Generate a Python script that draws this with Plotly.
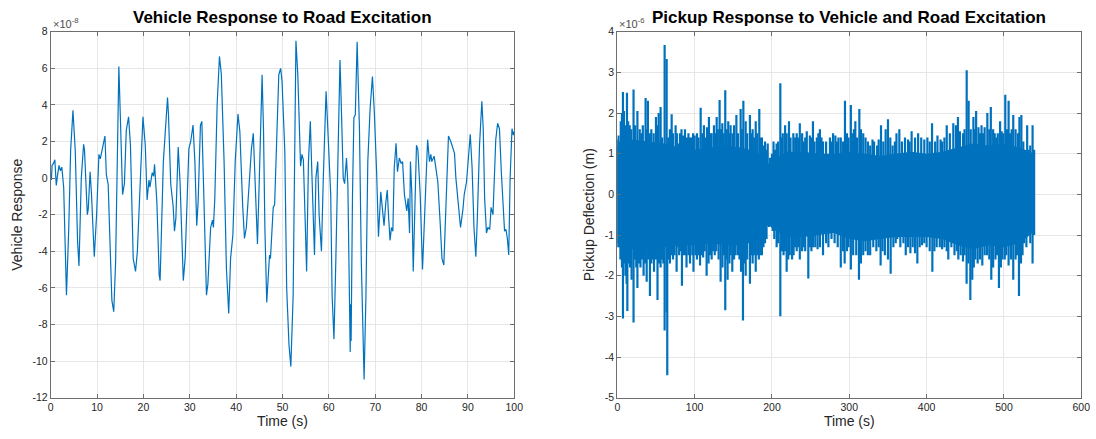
import plotly.graph_objects as go

# ---------------- Left panel data (values in units of 1e-8) ----------------
vehicle_time = [0, 0.15, 0.3, 0.6, 0.9, 1.2, 1.5, 1.8, 2.1, 2.4, 2.8, 3.1, 3.4, 3.9, 4.3, 4.8, 5.3, 5.8, 6.1, 6.6,
                7.1, 7.3, 7.9, 8.1, 8.5, 8.8, 9.4, 9.9, 10.4, 10.7, 11.2, 11.7, 12.0, 12.4, 12.8, 13.2, 13.6, 14.0,
                14.4, 14.7, 15.1, 15.5, 15.9, 16.3, 16.8, 17.2, 17.8, 18.3, 18.7, 19.2, 19.9, 20.4, 20.8, 21.2,
                21.4, 21.9, 22.2, 22.4, 22.9, 23.4, 23.6, 24.3, 24.8, 25.2,
                25.4, 25.9, 26.4, 26.7, 27.0, 27.5, 27.9, 28.6, 29.0, 29.8, 30.2, 30.7, 31.1, 31.5, 31.8, 32.3,
                32.6, 32.9, 33.6, 33.9, 34.5, 34.9, 35.1, 35.4, 35.9, 36.4, 36.8, 37.4, 37.9, 38.4, 38.8, 39.3,
                39.8, 40.4, 40.8, 41.4, 41.8, 42.2, 42.8, 43.3, 43.7, 44.1, 44.6, 45.1, 45.6, 45.9, 46.2, 46.6,
                47.2, 47.4, 48.0, 48.3, 48.7, 49.2, 49.6, 49.9,
                50.5, 50.9, 51.4, 51.8, 52.3, 52.7, 52.9, 53.3, 53.6, 53.9, 54.2, 54.5, 54.9, 55.2, 55.6, 56.0,
                56.3, 56.7, 56.9, 57.2, 57.6, 57.9, 58.4, 58.8, 59.4, 59.8, 60.4, 60.7, 61.1, 61.5, 62.0, 62.4,
                62.7, 63.1, 63.4, 63.8, 64.1, 64.4, 64.6, 64.7, 64.8, 65.1, 65.4, 65.7, 66.1, 66.6, 67.0, 67.6,
                68.0, 68.4, 68.9, 69.4, 69.8, 70.3, 70.7, 71.2, 71.5, 71.9, 72.3, 72.6, 72.9, 73.2, 73.5, 73.8,
                74.1, 74.5,
                74.8, 75.2, 75.6, 75.9, 76.3, 76.8, 77.1, 77.4, 77.6, 77.9, 78.2, 78.6, 78.9, 79.2, 79.7, 80.2,
                80.8, 81.3, 81.7, 82.0, 82.2, 82.7, 83.0, 83.5, 84.0, 84.4, 84.8, 85.1, 85.5, 85.8, 86.3, 86.7,
                87.1, 87.4, 87.9, 88.4, 88.9, 89.2, 89.7, 90.2, 90.5, 90.9, 91.3, 91.7, 92.0, 92.5, 93.0, 93.3,
                93.6, 94.0, 94.3, 94.7, 95.0, 95.4, 95.8, 96.0, 96.4, 96.8, 97.2, 97.5, 97.9, 98.2, 98.5, 98.8,
                99.1, 99.5, 99.8, 100]
vehicle_resp = [0.1, -0.1, 0.7, 0.8, 1.0, -0.4, 0.2, 0.7, 0.4, 0.6, -0.5, -3.5, -6.4, -2.7, 1.5, 3.7, 1.5, -3.5, -4.8, 0,
                1.85, 1.5, -2.0, -1.7, 0.35, -0.9, -4.3, -2.0, 1.3, 1.05, 1.7, 2.3, 0.2, -0.35, -3.6, -6.7, -7.3, -4.6,
                1.5, 6.1, 2.7, -0.9, -0.3, 2.6, 3.35, 1.8, -4.4, -5.1, -4.0, -1.3, 3.35, 1.8, -1.2, -0.1,
                -0.5, 0.3, 0.1, 0.75, -1.3, -5.3, -5.6, 0.9, 3.0, 4.4,
                3.5, -0.35, -1.5, -2.9, -2.2, 1.7, -0.2, -5.6, -4.4, 1.6, 2.0, 2.9, 0.9, -2.6, -1.3, 2.9,
                3.1, 0.5, -6.4, -5.8, -2.7, -2.3, -2.7, -1.1, 4.0, 6.65, 5.7, 0.9, -4.9, -7.4, -4.4, -3.1,
                0.9, 3.5, 2.55, -1.45, -3.3, -2.7, -0.35, 1.6, 2.45, -0.35, -3.6, 0.9, 5.65, 2.7, -2.7, -6.8,
                -4.2, -4.4, -1.6, -1.45, 1.9, 5.65, 6.0, 5.3,
                1.45, -6.0, -9.1, -10.3, -6.4, 4.6, 7.5, 5.65, 2.7, 0.65, 1.3, 1.0, -2.4, -5.1, 0.9, 3.1,
                0.55, -3.6, -4.2, 0, 0.9, -2.0, -4.0, 0, 4.75, 2.55, -0.9, -6.4, -8.8, -4.55, 2.7, 6.45,
                3.8, 0, -0.3, 1.1, -0.35, -4.55, -9.5, -6.9, -8.9, -0.9, 3.3, 3.45, 7.45, 2.7, -4.55, -11.0,
                -6.4, 0.9, 3.8, 5.55, 3.65, 0.35, -3.2, -0.75, -1.45, -2.6, -1.3, -0.65, -2.2, -3.4, -2.7, -2.9,
                0.55, 1.9,
                0.35, 1.1, 0.8, 0.9, -0.9, -1.8, -1.1, -3.0, 0.9, -0.9, -5.1, 0, 1.8, 1.55, -0.9, -5.0,
                -0.9, 2.1, 0.9, 1.3, 0.9, 1.2, 0.7, -0.2, -2.4, -4.4, -4.75, -2.7, 0.9, 2.3, 2.0, 1.7,
                1.35, 0, -1.3, -2.7, -1.75, -0.9, -0.2, 1.3, 2.4, 0.55, -2.7, -4.3, -2.4, 1.8, 4.2, 2.7,
                -1.1, -3.0, -2.7, -2.8, -1.6, -2.0, 0.55, 2.1, 3.0, 2.7, 0.35, -0.9, -2.9, -2.8, -3.3, -4.2,
                0, 2.7, 2.35, 2.55]

# ---------------- Right panel data (values in units of 1e-6 m) ----------------
# dense signal band: solid core envelope + individual peaks
core_time = [0, 20, 40, 60, 80, 100, 120, 140, 160, 180, 195, 205, 220, 240, 260, 280, 300, 320, 340, 360,
             380, 400, 420, 440, 460, 480, 500, 520, 540]
core_upper = [1.2, 1.35, 1.3, 1.25, 1.15, 1.1, 1.15, 1.2, 1.15, 1.05, 0.75, 0.9, 1.05, 1.05, 1.0, 1.0, 1.05, 1.0,
              0.95, 1.0, 1.05, 1.0, 1.05, 1.15, 1.25, 1.2, 1.25, 1.15, 1.0]
core_lower = [-1.2, -1.35, -1.35, -1.3, -1.25, -1.25, -1.2, -1.25, -1.25, -1.15, -0.75, -0.9, -1.05, -1.05, -1.0,
              -0.95, -1.1, -1.15, -1.1, -1.05, -1.05, -1.05, -1.1, -1.25, -1.35, -1.25, -1.3, -1.2, -0.9]

pickup_upper_peaks = [
    (0, 1.35), (1.5, 1.45), (3, 1.3), (4.5, 1.8), (6, 2.0), (7.3, 2.52), (8.6, 2.05), (10, 1.7), (12.5, 2.5),
    (14, 1.8), (16, 1.7), (18, 1.6), (21, 2.58), (23, 1.7), (26, 2.05), (29, 1.6), (31, 1.5), (33, 1.7),
    (36.6, 2.37), (38, 1.6), (39.6, 2.3), (42, 1.5), (44, 1.6), (47, 1.5), (50, 1.9), (51.5, 1.7), (53.5, 2.0),
    (56, 2.15), (58, 1.4), (61.2, 3.67), (63.8, 3.33), (66, 1.4), (68, 1.6), (70.3, 1.97), (72, 1.5),
    (75.4, 1.7), (77, 1.5), (79, 1.25), (81, 1.5), (83, 1.6), (85, 1.45), (87.5, 1.6), (90, 1.4), (92, 1.5),
    (94, 1.4), (96, 1.4), (98, 1.5), (100, 1.45), (103, 1.5), (105, 1.4), (107.8, 2.13), (110, 1.5), (112, 1.7),
    (114, 1.4), (116, 1.65), (118.5, 1.9), (120, 1.5), (122, 1.5), (125, 1.7), (127, 1.5), (128.5, 1.9),
    (130, 1.6), (132.3, 2.32), (134, 1.6), (135.8, 1.75), (137.5, 1.5), (139.6, 2.56), (141.5, 1.6),
    (143.5, 1.8), (145, 1.5), (146.5, 1.7), (149, 1.5), (151, 1.7), (154, 1.95), (156, 1.5), (159.5, 2.1),
    (161, 1.6), (163, 2.3), (166, 1.8), (168, 1.5), (171.5, 1.95), (173, 1.5), (175, 1.6), (177, 1.4),
    (179, 1.8), (181, 1.5), (183.6, 2.1), (185, 1.4), (187, 1.4), (189, 1.2), (191, 1.3), (193, 1.1),
    (194.5, 1.25), (197.5, 0.9), (200, 1.0), (202, 1.3), (204, 1.1), (206, 1.25), (208, 1.3), (210.8, 2.73),
    (212, 1.4), (214, 1.5), (217, 1.7), (219, 1.5), (222, 1.8), (224, 1.4), (227.6, 1.5), (230, 1.4),
    (232, 1.5), (234, 1.4), (236, 1.75), (239, 1.5), (241, 1.3), (243, 1.4), (245, 1.55), (249, 1.45),
    (251, 1.4), (253, 1.8), (255, 1.3), (258, 1.4), (260, 1.5), (262, 1.6), (264, 1.4), (266, 1.3), (270, 1.3),
    (275, 1.4), (277, 1.3), (279, 1.5), (282, 1.45), (284, 1.3), (286, 1.4), (289, 1.4), (292, 1.3),
    (294.4, 2.3), (297, 1.5), (299, 1.4), (302, 2.2), (304, 1.5), (306, 1.6), (307.8, 1.8), (310, 1.4),
    (313, 2.1), (315, 1.6), (318, 1.5), (321, 1.4), (324, 1.3), (327, 1.2), (330, 1.35), (332, 1.3), (336, 1.2),
    (338, 1.35), (341, 1.7), (344, 1.3), (347, 1.6), (350, 1.85), (353, 1.4), (356, 1.2), (359, 1.3),
    (361, 1.5), (364.7, 1.6), (368, 1.3), (372, 1.4), (376, 1.35), (378, 1.3), (380.6, 1.55), (385, 1.4),
    (389, 1.5), (393, 1.4), (397, 1.35), (401, 1.4), (404, 1.3), (407, 1.75), (411, 1.3), (414, 1.45),
    (418, 1.35), (420, 1.3), (423, 1.4), (426, 1.7), (430, 1.5), (434.5, 1.75), (438, 1.7), (440.5, 1.9),
    (443, 1.55), (447, 1.5), (449, 1.6), (451.8, 3.05), (454.3, 2.3), (457, 1.6), (460.5, 1.9), (462, 1.6),
    (464, 2.05), (467, 1.65), (469, 1.5), (471, 1.7), (473, 1.5), (475, 1.65), (478.5, 2.0), (481, 1.6),
    (483, 2.15), (486, 1.6), (488, 1.5), (490, 1.4), (492, 1.5), (495, 1.8), (497, 1.55), (499, 1.5),
    (501.7, 2.45), (504, 1.6), (506, 2.3), (508, 1.5), (510, 1.6), (512, 1.95), (515, 1.6), (518, 1.5),
    (520, 1.9), (522.5, 1.95), (525, 1.3), (528, 0.9), (530, 1.7), (532, 1.1), (534, 1.2), (537, 1.7), (539, 1.1)]

pickup_lower_peaks = [
    (0, -1.3), (2, -1.3), (4, -1.6), (6, -1.8), (7.3, -3.05), (9, -1.7), (10.5, -2.0), (12, -2.2), (13, -2.87),
    (15, -1.7), (16.5, -1.8), (18.5, -2.1), (21, -3.15), (23, -1.6), (24.5, -1.8), (26, -2.3), (28, -1.7),
    (30, -1.8), (32, -1.6), (34, -2.0), (36, -1.7), (38, -2.15), (40, -1.6), (42.2, -2.5), (44, -1.7),
    (46, -1.6), (47.5, -1.9), (50, -1.6), (52, -2.6), (54, -1.7), (56, -1.8), (58, -1.6), (59.5, -1.7),
    (61.2, -3.35), (63.8, -2.9), (64.6, -4.45), (66, -1.6), (68, -1.7), (70, -1.5), (72, -1.6), (74, -1.5),
    (76.7, -1.9), (78, -1.3), (80, -1.5), (81.5, -1.4), (83.6, -2.25), (85, -1.5), (87.5, -1.5), (89.5, -1.8),
    (92, -1.5), (94, -1.7), (97, -1.5), (98.5, -1.9), (101, -1.5), (103, -1.6), (105, -1.5), (107, -1.75),
    (109, -1.5), (111, -1.55), (113, -1.4), (115.5, -2.0), (118, -1.7), (120, -1.5), (122, -1.6), (124, -1.4),
    (126, -1.5), (128, -1.4), (131, -1.6), (133.6, -2.15), (136, -1.8), (138, -1.5), (139.6, -2.85),
    (141, -1.6), (142.6, -2.1), (145, -1.7), (146.5, -1.5), (148.7, -1.9), (151, -1.6), (153, -1.5),
    (156, -1.5), (158, -1.6), (160, -1.9), (162.5, -3.1), (164, -1.7), (166, -2.0), (168, -1.6),
    (171.5, -2.2), (173, -1.5), (175, -1.7), (177, -1.5), (179, -1.9), (181, -1.5), (183, -1.6), (185, -1.5),
    (187, -1.5), (189, -1.3), (191, -1.2), (193, -1.1), (196, -0.8), (198, -0.75), (201, -0.9), (203, -1.1),
    (206, -1.3), (208, -1.2), (210.8, -3.0), (213, -1.4), (215, -1.5), (217, -1.4), (219, -1.9), (221, -1.6),
    (223, -1.5), (226, -1.6), (228, -1.5), (230, -1.3), (232, -1.4), (234, -1.3), (236, -1.6), (239, -1.4),
    (241, -1.3), (243, -1.4), (247, -2.07), (249, -1.3), (251, -1.4), (253, -1.3), (256, -1.3), (259, -1.35),
    (262, -1.3), (266, -1.5), (270, -1.2), (273, -1.3), (277, -1.1), (281, -1.2), (285, -1.3), (289, -1.8),
    (292, -1.4), (294, -1.7), (297, -1.4), (299, -1.3), (302, -1.85), (305, -1.5), (309, -1.5), (312.5, -2.1),
    (315, -1.7), (318, -1.5), (321, -1.4), (324, -1.5), (327, -1.5), (331, -1.3), (335, -1.4), (338, -1.3),
    (340.5, -1.75), (343, -1.4), (346, -1.5), (350, -1.6), (353.5, -1.95), (357, -1.3), (360, -1.2),
    (362, -1.1), (366, -1.3), (370, -1.2), (373, -1.5), (376, -1.3), (379, -1.45), (382, -1.3), (385, -1.45),
    (388, -1.7), (391, -1.3), (394, -1.25), (397, -1.2), (400, -1.3), (404, -1.4), (407.4, -1.9), (410, -1.4),
    (413, -1.3), (417, -1.3), (420, -1.35), (423, -1.3), (426, -1.4), (428, -1.6), (432, -1.3), (436, -1.5),
    (439, -1.4), (441, -1.6), (444, -1.5), (447, -1.65), (449, -1.5), (451.7, -2.2), (454, -1.7),
    (456.5, -2.6), (459, -2.1), (461, -1.8), (463, -1.6), (466, -1.7), (469, -1.6), (472, -1.75), (475, -1.5),
    (478, -1.5), (481, -1.6), (483.6, -2.1), (486, -1.8), (489, -1.6), (491, -1.5), (493.5, -2.3),
    (496, -1.8), (498, -1.6), (501, -1.6), (503, -1.5), (506, -1.75), (509, -1.6), (512, -2.1), (515, -1.6),
    (517, -1.5), (519.4, -2.5), (522, -1.7), (524, -1.5), (526, -1.2), (529, -1.3), (532, -1.0), (534, -1.2),
    (537, -1.7), (539, -1.0)]

left_xticks = list(range(0, 101, 10))
left_yticks = list(range(-12, 9, 2))
right_xticks = list(range(0, 601, 100))
right_yticks = list(range(-5, 5, 1))

BLUE = "#0072BD"
FONT = "Liberation Sans, Arial, Helvetica, sans-serif"
W, H = 1096, 439

fig = go.Figure()

fig.add_trace(go.Scatter(x=vehicle_time, y=vehicle_resp, mode="lines",
                         line=dict(color=BLUE, width=1.2), xaxis="x", yaxis="y",
                         showlegend=False, hoverinfo="skip"))

# solid core band of the dense signal
band_x = core_time + core_time[::-1]
band_y = core_upper + core_lower[::-1]
fig.add_trace(go.Scatter(x=band_x, y=band_y, mode="lines", fill="toself", fillcolor=BLUE,
                         line=dict(color=BLUE, width=0), xaxis="x2", yaxis="y2",
                         showlegend=False, hoverinfo="skip"))

# individual peaks of the dense signal
sx, sy = [], []
for t, v in pickup_upper_peaks + pickup_lower_peaks:
    sx += [t, t, None]
    sy += [0, v, None]
fig.add_trace(go.Scatter(x=sx, y=sy, mode="lines", line=dict(color=BLUE, width=2.2),
                         xaxis="x2", yaxis="y2", showlegend=False, hoverinfo="skip"))

# axes geometry (pixels)
L1, R1 = 50.7, 514.3
L2, R2 = 617.3, 1081.3
TOP, BOT = 31.7, 397.7
ydom = [1 - BOT / H, 1 - TOP / H]


def labels(vals):
    return [str(v) for v in vals]


axis_common = dict(showgrid=True, gridcolor="#e6e6e6", gridwidth=1, zeroline=False, automargin=False,
                   showline=True, linecolor="#6e6e6e", linewidth=1, mirror="ticks",
                   ticks="inside", ticklen=4, tickcolor="#6e6e6e",
                   tickfont=dict(family=FONT, size=10.5, color="#262626"))
title_font = dict(family=FONT, size=14, color="#262626")

fig.update_layout(
    width=W, height=H, margin=dict(l=0, r=0, t=0, b=0, autoexpand=False),
    paper_bgcolor="white", plot_bgcolor="white",
    xaxis=dict(domain=[L1 / W, R1 / W], range=[0, 100], tickvals=left_xticks, ticktext=labels(left_xticks),
               anchor="y", title=dict(text="Time (s)", font=title_font, standoff=3), **axis_common),
    yaxis=dict(domain=ydom, range=[-12, 8], tickvals=left_yticks, ticktext=labels(left_yticks),
               anchor="x", title=dict(text="Vehicle Response", font=title_font, standoff=6), **axis_common),
    xaxis2=dict(domain=[L2 / W, R2 / W], range=[0, 600], tickvals=right_xticks, ticktext=labels(right_xticks),
                anchor="y2", title=dict(text="Time (s)", font=title_font, standoff=3), **axis_common),
    yaxis2=dict(domain=ydom, range=[-5, 4], tickvals=right_yticks, ticktext=labels(right_yticks),
                anchor="x2", title=dict(text="Pickup Deflection (m)", font=title_font, standoff=6),
                **axis_common),
)

fig.add_annotation(text="<b>Vehicle Response to Road Excitation</b>", xref="paper", yref="paper",
                   x=(L1 + R1) / 2 / W, y=1 - 18 / H, xanchor="center", yanchor="middle", showarrow=False,
                   font=dict(family=FONT, size=17, color="black"))
fig.add_annotation(text="<b>Pickup Response to Vehicle and Road Excitation</b>", xref="paper", yref="paper",
                   x=(L2 + R2) / 2 / W, y=1 - 18 / H, xanchor="center", yanchor="middle", showarrow=False,
                   font=dict(family=FONT, size=17, color="black"))
fig.add_annotation(text="×10<sup>-8</sup>", xref="paper", yref="paper", x=L1 / W, y=1 - 23 / H,
                   xanchor="left", yanchor="middle", showarrow=False,
                   font=dict(family=FONT, size=11, color="#4d4d4d"))
fig.add_annotation(text="×10<sup>-6</sup>", xref="paper", yref="paper", x=L2 / W, y=1 - 23 / H,
                   xanchor="left", yanchor="middle", showarrow=False,
                   font=dict(family=FONT, size=11, color="#4d4d4d"))

fig.write_html("out.html", config={"displayModeBar": False},
               post_script="document.body.style.margin='0';document.body.style.overflow='hidden';")
